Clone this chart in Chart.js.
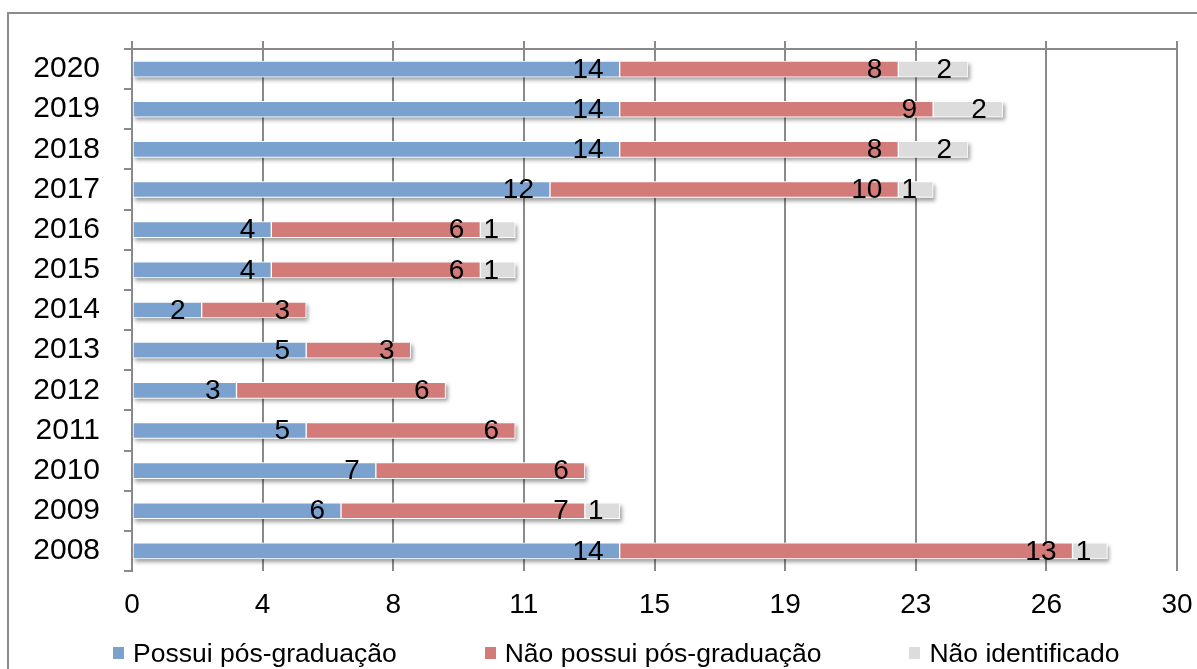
<!DOCTYPE html>
<html>
<head>
<meta charset="utf-8">
<script src="https://cdn.jsdelivr.net/npm/chart.js@4/dist/chart.umd.min.js"></script>
<style>
  html, body { margin: 0; padding: 0; background: #fff; overflow: hidden; }
  body { width: 1197px; height: 669px; position: relative; font-family: "Liberation Sans", Arial, sans-serif; }
  #frame { position: absolute; left: 7px; top: 12px; width: 1300px; height: 800px;
           border-left: 2px solid #8c8c8c; border-top: 2px solid #8c8c8c; }
  #wrap { position: absolute; left: 0; top: 0; width: 1197px; height: 669px; }
  #legend { position: absolute; left: 113px; top: 638px; display: flex; gap: 88px;
            font-size: 26.5px; line-height: 30px; color: #000; white-space: nowrap; }
  #legend .item { display: flex; align-items: center; }
  #legend .box { display: inline-block; width: 11px; height: 12px; margin-right: 9px; }
</style>
</head>
<body>
<div id="frame"></div>
<div id="wrap"><canvas id="chart" width="1197" height="669"></canvas></div>
<div id="legend"></div>
<script>
// Years, top to bottom
const years = ['2020','2019','2018','2017','2016','2015','2014','2013','2012','2011','2010','2009','2008'];

// Counts per year
const possuiPos    = [14, 14, 14, 12, 4, 4, 2, 5, 3, 5, 7, 6, 14];
const naoPossuiPos = [8, 9, 8, 10, 6, 6, 3, 3, 6, 6, 6, 7, 13];
const naoIdent     = [2, 2, 2, 1, 1, 1, null, null, null, null, null, 1, 1];

// Value-axis labels (axis split into 8 equal steps of 3.75)
const xTickLabels = ['0','4','8','11','15','19','23','26','30'];

const seriesNames  = ['Possui pós-graduação', 'Não possui pós-graduação', 'Não identificado'];
const seriesColors = ['#7ba2cf', '#d27b79', '#dcdcdc'];

const GRID = '#8a8a8a';
const FONT = '"Liberation Sans", Arial, sans-serif';

// Soft drop shadow behind each full stacked bar
const stackShadow = {
  id: 'stackShadow',
  beforeDatasetsDraw(chart) {
    const ctx = chart.ctx;
    const metas = chart.data.datasets.map((d, i) => chart.getDatasetMeta(i));
    years.forEach((y, j) => {
      let left = Infinity, right = -Infinity, top = 0, h = 0;
      metas.forEach(m => {
        const el = m.data[j];
        const v = chart.data.datasets[m.index].data[j];
        if (!el || v == null) return;
        left = Math.min(left, el.base, el.x);
        right = Math.max(right, el.base, el.x);
        top = el.y - el.height / 2;
        h = el.height;
      });
      if (!isFinite(left)) return;
      ctx.save();
      ctx.shadowColor = 'rgba(0,0,0,0.38)';
      ctx.shadowBlur = 4;
      ctx.shadowOffsetX = 2;
      ctx.shadowOffsetY = 3;
      ctx.fillStyle = '#fff';
      ctx.fillRect(left, top, right - left, h);
      ctx.restore();
    });
  }
};

// Value labels at the inner end of each segment
const segmentLabels = {
  id: 'segmentLabels',
  afterDatasetsDraw(chart) {
    const ctx = chart.ctx;
    ctx.save();
    ctx.font = '28px ' + FONT;
    ctx.fillStyle = '#000';
    ctx.textAlign = 'right';
    ctx.textBaseline = 'middle';
    chart.data.datasets.forEach((ds, i) => {
      const meta = chart.getDatasetMeta(i);
      meta.data.forEach((el, j) => {
        const v = ds.data[j];
        if (v == null) return;
        ctx.fillText(String(v), el.x - 16, el.y + 1);
      });
    });
    ctx.restore();
  }
};

const seriesData = [possuiPos, naoPossuiPos, naoIdent];

new Chart(document.getElementById('chart'), {
  type: 'bar',
  data: {
    labels: years,
    datasets: seriesNames.map((name, i) => ({
      label: name,
      data: seriesData[i],
      backgroundColor: seriesColors[i],
      borderColor: '#ffffff',
      borderWidth: 1,
      borderSkipped: false,
      barThickness: 16
    }))
  },
  options: {
    indexAxis: 'y',
    responsive: false,
    animation: false,
    events: [],
    layout: { padding: { left: 0, top: 41, right: 20, bottom: 36 } },
    plugins: { legend: { display: false }, tooltip: { enabled: false } },
    scales: {
      x: {
        stacked: true,
        position: 'bottom',
        min: 0, max: 30,
        ticks: {
          stepSize: 3.75,
          autoSkip: false,
          maxRotation: 0,
          padding: 17,
          color: '#000',
          font: { family: FONT, size: 28 },
          callback: (v, i) => xTickLabels[i]
        },
        grid: { color: GRID, lineWidth: 2, drawTicks: false },
        border: { display: false },
        afterFit: s => { s.height = 62; s.paddingLeft = 0; s.paddingRight = 0; }
      },
      x2: {
        position: 'top',
        min: 0, max: 30,
        ticks: { display: false, stepSize: 3.75 },
        grid: { color: GRID, lineWidth: 2, drawOnChartArea: false, drawTicks: true, tickLength: 8 },
        border: { display: true, color: GRID, width: 2 },
        afterFit: s => { s.height = 8; s.paddingLeft = 0; s.paddingRight = 0; }
      },
      y: {
        stacked: true,
        ticks: {
          padding: 24,
          color: '#000',
          font: { family: FONT, size: 30 }
        },
        grid: { offset: true, color: GRID, lineWidth: 2, drawOnChartArea: false, drawTicks: true, tickLength: 8 },
        border: { display: true, color: GRID, width: 2 },
        afterFit: s => { s.width = 132; }
      }
    }
  },
  plugins: [stackShadow, segmentLabels]
});

// Legend row under the axis
const legend = document.getElementById('legend');
seriesNames.forEach((name, i) => {
  const item = document.createElement('div');
  item.className = 'item';
  const box = document.createElement('span');
  box.className = 'box';
  box.style.background = seriesColors[i];
  item.appendChild(box);
  item.appendChild(document.createTextNode(name));
  legend.appendChild(item);
});
</script>
</body>
</html>
